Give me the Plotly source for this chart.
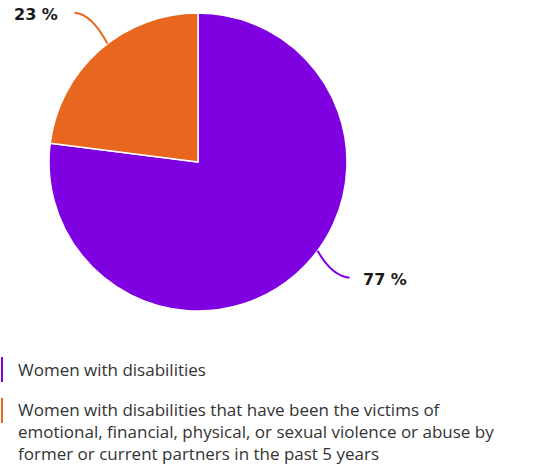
import math
import plotly.graph_objects as go

labels = [
    "Women with disabilities",
    "Women with disabilities that have been the victims of<br>emotional, financial, physical, or sexual violence or abuse by<br>former or current partners in the past 5 years",
]
values = [77, 23]
value_text = ["77 %", "23 %"]
colors = ["#7f00e0", "#e8661e"]

W, H = 538, 466
CX, CY, R = 198, 162, 149

def px(x):
    return x / W

def py(y):
    return 1 - y / H

fig = go.Figure()
fig.add_trace(go.Pie(
    labels=labels, values=values, sort=False, direction="clockwise", rotation=0,
    marker=dict(colors=colors, line=dict(color="white", width=1.5)),
    textinfo="none", hoverinfo="label+percent", showlegend=False,
    domain=dict(x=[px(CX - R), px(CX + R)], y=[py(CY + R), py(CY - R)]),
))

# connectors and labels, positioned from slice mid angles
total = sum(values)
cum = 0
shapes = []
annotations = []
angle_tweak = [-12, 4]
for i, v in enumerate(values):
    mid = (cum + v / 2) / total * 360 + angle_tweak[i]
    cum += v
    a = math.radians(mid)
    sx, sy = CX + R * math.sin(a), CY - R * math.cos(a)
    right = math.sin(a) > 0
    if right:
        ex, ey = sx + 32, sy + 27
        qx, qy = sx + 14, sy + 25
        tx, anchor = ex + 11, "left"
    else:
        ex, ey = sx - 33, sy - 31
        qx, qy = sx - 16, sy - 30
        tx, anchor = ex - 15, "right"
    shapes.append(dict(
        type="path", xref="paper", yref="paper",
        path=f"M {px(sx)},{py(sy)} Q {px(qx)},{py(qy)} {px(ex)},{py(ey)}",
        line=dict(color=colors[i], width=2),
    ))
    annotations.append(dict(
        x=px(tx), y=py(ey + 2), xref="paper", yref="paper", text=f"<b>{value_text[i]}</b>",
        showarrow=False, xanchor=anchor, yanchor="middle",
        font=dict(family="DejaVu Sans", size=16, color="#1a1a1a"),
    ))

# custom legend
leg_top = [356, 397]
for i, lab in enumerate(labels):
    shapes.append(dict(
        type="rect", xref="paper", yref="paper",
        x0=px(1), x1=px(3), y0=py(leg_top[i] + 1), y1=py(leg_top[i] + 26),
        fillcolor=colors[i], line=dict(width=0),
    ))
    annotations.append(dict(
        x=px(16), y=py(leg_top[i] - (1 if i else 0)), xref="paper", yref="paper", text=lab,
        showarrow=False, xanchor="left", yanchor="top", align="left",
        font=dict(family="Open Sans", size=17, color="#333333"),
    ))

fig.update_layout(
    width=W, height=H, margin=dict(l=0, r=0, t=0, b=0),
    paper_bgcolor="white", plot_bgcolor="white",
    shapes=shapes, annotations=annotations, showlegend=False,
)
fig.write_html("out.html")
